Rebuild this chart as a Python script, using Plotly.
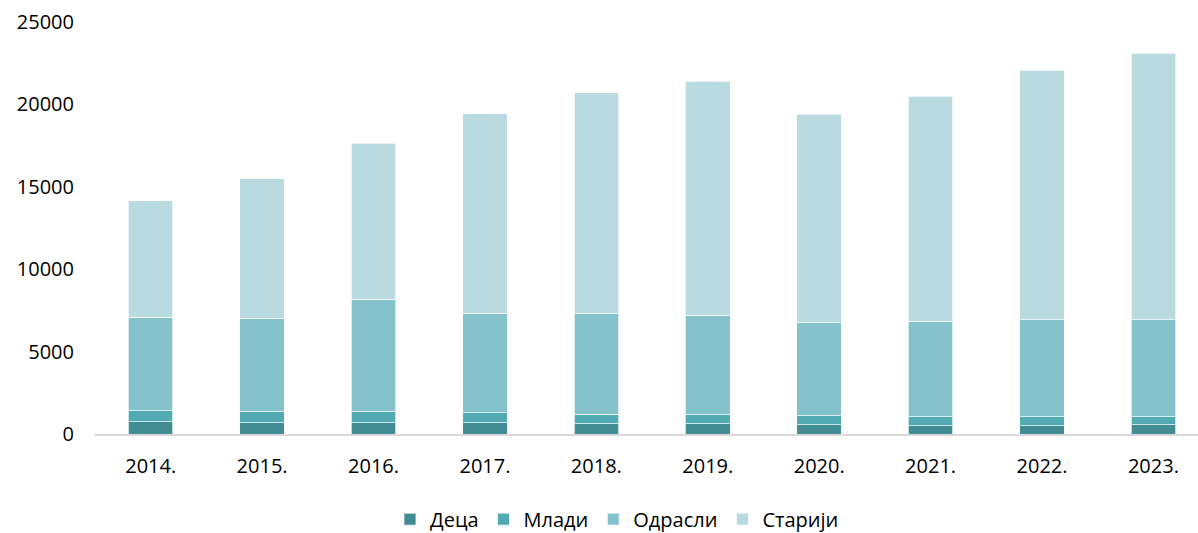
import plotly.graph_objects as go

years = ["2014.", "2015.", "2016.", "2017.", "2018.", "2019.", "2020.", "2021.", "2022.", "2023."]
deca = [730, 670, 670, 670, 610, 610, 550, 490, 490, 550]
mladi = [670, 670, 670, 610, 590, 550, 550, 550, 550, 490]
odrasli = [5685, 5686, 6839, 6050, 6087, 6032, 5643, 5764, 5886, 5886]
stariji = [7082, 8452, 9466, 12093, 13434, 14217, 12664, 13677, 15151, 16165]
y_ticks = [0, 5000, 10000, 15000, 20000, 25000]
y_tick_labels = ["0", "5000", "10000", "15000", "20000", "25000"]

series = [
    ("Деца", deca, "#428c94"),
    ("Млади", mladi, "#52abb3"),
    ("Одрасли", odrasli, "#84c3cb"),
    ("Старији", stariji, "#b9dadf"),
]

fig = go.Figure()
for name, vals, col in series:
    fig.add_trace(go.Bar(
        x=years, y=vals, name=name,
        marker=dict(color=col, line=dict(color="rgba(255,255,255,0.7)", width=1)),
    ))

font = "'Open Sans', Lato, sans-serif"
fig.update_layout(
    barmode="stack",
    bargap=0.6,
    width=1198, height=533,
    margin=dict(l=95, r=0, t=22, b=99, autoexpand=False),
    plot_bgcolor="white", paper_bgcolor="white",
    font=dict(family=font, size=20, color="#000000"),
    showlegend=True,
    legend=dict(orientation="h", xref="container", yref="container",
                x=0.515, xanchor="center", y=0.026, yanchor="middle",
                font=dict(size=20), traceorder="normal", itemwidth=30),
    xaxis=dict(showgrid=False, showline=True, linecolor="#d9d9d9", linewidth=1.5,
               ticks="", tickfont=dict(size=20), range=[-0.5, 9.4],
               ticklabelstandoff=13, automargin=False),
    yaxis=dict(range=[0, 25000], tickvals=y_ticks, ticktext=y_tick_labels,
               showgrid=False, zeroline=False, showline=False, ticks="",
               tickfont=dict(size=20), ticklabelstandoff=20, automargin=False),
)

fig.write_html("out.html", config={"displayModeBar": False},
               post_script="document.body.style.margin='0';document.body.style.overflow='hidden';")
